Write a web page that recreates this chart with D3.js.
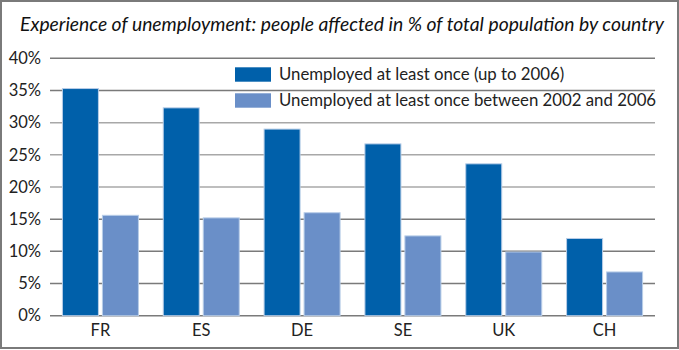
<!DOCTYPE html>
<html><head><meta charset="utf-8">
<script src="https://cdn.jsdelivr.net/npm/d3@7"></script>
<style>html,body{margin:0;padding:0;background:#fff;}svg{display:block;}</style>
</head><body>
<svg id="chart" width="679" height="350"></svg>
<script>
const categories = ["FR", "ES", "DE", "SE", "UK", "CH"];
const seriesNames = ["Unemployed at least once (up to 2006)", "Unemployed at least once between 2002 and 2006"];
const upTo2006 = [35.3, 32.3, 29.0, 26.7, 23.6, 12.0];
const between2002and2006 = [15.6, 15.2, 16.0, 12.4, 9.9, 6.8];
const yTicks = [0, 5, 10, 15, 20, 25, 30, 35, 40];
const title = "Experience of unemployment: people affected in % of total population by country";
const colors = ["#0060aa", "#6a8fc8"];

const svg = d3.select("#chart");
const font = "'Lato', 'DejaVu Sans', sans-serif";
const m = {left: 50, right: 24, top: 58.3, bottom: 34.3};
const W = 679, H = 350;

svg.append("rect").attr("x", 1).attr("y", 1).attr("width", 677).attr("height", 347)
  .attr("fill", "#fff").attr("stroke", "#7a7a7a").attr("stroke-width", 2);

const x = d3.scaleBand().domain(categories).range([m.left, W - m.right]).paddingInner(0).paddingOuter(0);
const y = d3.scaleLinear().domain([0, 40]).range([H - m.bottom, m.top]);

// gridlines
const gridColor = t => (t >= 20 && t <= 30) ? "#a8a8a8" : "#7a7a7a";
svg.append("g").selectAll("line").data(yTicks).join("line")
  .attr("x1", m.left).attr("x2", W - m.right)
  .attr("y1", d => y(d)).attr("y2", d => y(d))
  .attr("stroke", d => gridColor(d)).attr("stroke-width", 1.5);

// y axis labels
const yAxis = d3.axisLeft(y).tickValues(yTicks).tickFormat(d => d + "%").tickSize(0).tickPadding(9);
const ga = svg.append("g").attr("transform", `translate(${m.left},0)`).call(yAxis);
ga.select(".domain").remove();
ga.selectAll("text").attr("font-family", font).attr("font-size", 16.5).attr("fill", "#222");

// x axis labels
const xAxis = d3.axisBottom(x).tickSize(0).tickPadding(9);
const gx = svg.append("g").attr("transform", `translate(0,${H - m.bottom})`).call(xAxis);
gx.select(".domain").remove();
gx.selectAll("text").attr("font-family", font).attr("font-size", 16.5).attr("fill", "#222");

// bars
const barW = 36, gap = 4;
const off = (x.bandwidth() - (2 * barW + gap)) / 2;
const series = [upTo2006, between2002and2006];
series.forEach((vals, si) => {
  svg.append("g").selectAll("rect").data(categories).join("rect")
    .attr("x", d => x(d) + off + si * (barW + gap))
    .attr("y", (d, i) => y(vals[i]))
    .attr("width", barW)
    .attr("height", (d, i) => y(0) - y(vals[i]))
    .attr("fill", colors[si])
    .attr("stroke", "#b8cde8").attr("stroke-width", 1);
});

// legend
const lg = svg.append("g");
seriesNames.forEach((n, i) => {
  const yy = 67.3 + i * 26;
  lg.append("rect").attr("x", 235).attr("y", yy).attr("width", 36).attr("height", 14.4).attr("fill", colors[i]);
  lg.append("text").attr("x", 279).attr("y", yy + 13).text(n)
    .attr("font-family", font).attr("font-size", 16.8).attr("fill", "#222");
});

// title
svg.append("text").attr("x", 342).attr("y", 31).attr("text-anchor", "middle")
  .attr("font-family", font).attr("font-style", "italic").attr("font-size", 19.3).attr("fill", "#111")
  .text(title);
</script>
</body></html>
